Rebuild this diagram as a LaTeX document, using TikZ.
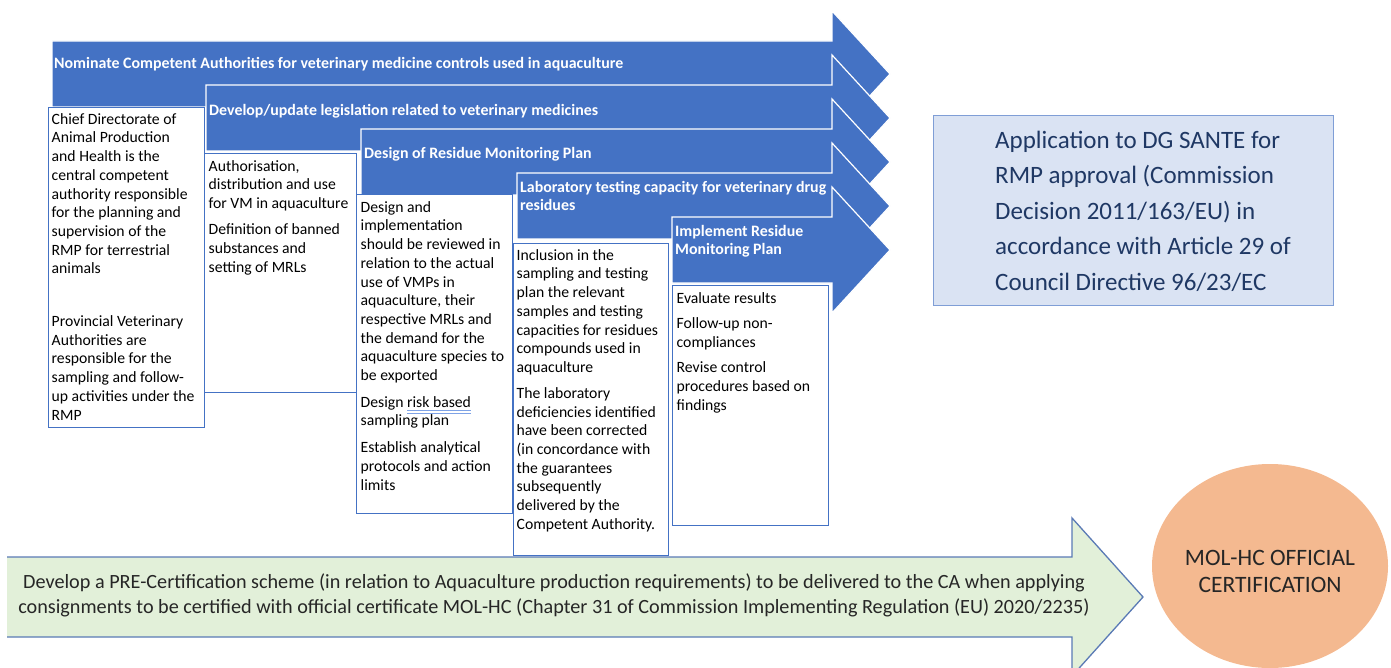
\documentclass[tikz,border=0pt]{standalone}
\usepackage{fontspec}
\setmainfont{Carlito}
\usetikzlibrary{positioning, shapes.geometric}

\definecolor{stageblue}{HTML}{4472C4}
\definecolor{santefill}{HTML}{DAE3F3}
\definecolor{santeline}{HTML}{7F9ED6}
\definecolor{santetext}{HTML}{1F3864}
\definecolor{precertfill}{HTML}{E2F0D9}
\definecolor{precertline}{HTML}{5A7AB5}
\definecolor{certfill}{HTML}{F4B990}
\definecolor{gramblue}{HTML}{7FA3E6}

\newcommand\notefont{\fontsize{15.7}{18.7}\selectfont}
\newcommand\stagefont{\fontsize{15.9}{18.7}\selectfont\bfseries}
\newsavebox\grambox
\newcommand\gramline[1]{\sbox\grambox{#1}%
  \rlap{\textcolor{gramblue}{\rule[-4pt]{\wd\grambox}{1.1pt}}}%
  \rlap{\textcolor{gramblue}{\rule[-6.8pt]{\wd\grambox}{1.1pt}}}%
  \usebox\grambox}

\tikzset{
  stagearrow/.style={
    fill=stageblue,
    draw=white,
    line width=1.2pt
  },
  stagelabel/.style={
    anchor=north west,
    inner sep=0pt,
    align=left,
    text=white,
    font=\stagefont
  },
  notebox/.style={
    draw=stageblue,
    fill=white,
    line width=1.3pt,
    anchor=north west,
    inner sep=0pt
  },
  notetext/.style={
    inner sep=0pt,
    align=left,
    font=\notefont
  },
  santebox/.style={
    draw=santeline,
    fill=santefill,
    line width=1.3pt,
    anchor=north west,
    inner sep=0pt
  },
  santetext/.style={
    inner sep=0pt,
    align=left,
    text=santetext,
    font=\fontsize{25}{35.5}\selectfont
  },
  precerttext/.style={
    inner sep=0pt,
    align=center,
    text=black!85,
    font=\fontsize{20.2}{25}\selectfont
  },
  certcircle/.style={
    ellipse,
    fill=certfill,
    minimum width=236pt,
    minimum height=204pt,
    inner sep=0pt
  },
  certtext/.style={
    inner sep=0pt,
    align=center,
    text=black!85,
    font=\fontsize{23.5}{27}\selectfont
  }
}

\begin{document}
\begin{tikzpicture}[x=1pt, y=-1pt]
  \useasboundingbox (0,0) rectangle (1391,668);
  \clip (0,0) rectangle (1391,668);

  % five stage arrows, back to front
  \path [stagearrow] (52,41) -- (832,41) -- (832,11) -- (890,74) -- (832,137) -- (832,107) -- (52,107) -- cycle;
  \node (nominate) [stagelabel] at (54,55) {\strut Nominate Competent Authorities for veterinary medicine controls used in aquaculture};
  \path [stagearrow] (206,85) -- (832,85) -- (832,55) -- (890,118) -- (832,181) -- (832,151) -- (206,151) -- cycle;
  \node (legislate) [stagelabel] at (209,102) {\strut Develop/update legislation related to veterinary medicines};
  \path [stagearrow] (361,129) -- (832,129) -- (832,99) -- (890,162) -- (832,225) -- (832,195) -- (361,195) -- cycle;
  \node (rmpdesign) [stagelabel] at (364,145) {\strut Design of Residue Monitoring Plan};
  \path [stagearrow] (517,173) -- (832,173) -- (832,143) -- (890,206) -- (832,269) -- (832,239) -- (517,239) -- cycle;
  \node (labcap) [stagelabel] at (520,179) {\strut Laboratory testing capacity for veterinary drug\\ residues};
  \path [stagearrow] (672,217) -- (832,217) -- (832,187) -- (890,250) -- (832,313) -- (832,283) -- (672,283) -- cycle;
  \node (implement) [stagelabel] at (675,223) {\strut Implement Residue\\ Monitoring Plan};

  % notes under each stage
  \node (authnote) [notebox, minimum width=156pt, minimum height=320pt] at (48,107) {};
  \node (authtext) [notetext, below right=4pt and 3.5pt of authnote.north west] {\strut Chief Directorate of\\ Animal Production\\ and Health is the\\
    central competent\\ authority responsible\\ for the planning and\\ supervision of the\\
    RMP for terrestrial\\ animals\\[34pt]
    Provincial Veterinary\\ Authorities are\\ responsible for the\\ sampling and follow-\\
    up activities under the\\ RMP};
  \node (legnote) [notebox, minimum width=152pt, minimum height=239pt] at (204,153) {};
  \node (legtext) [notetext, below right=5pt and 4.5pt of legnote.north west] {\strut Authorisation,\\ distribution and use\\ for VM in aquaculture\\[7.3pt]
    Definition of banned\\ substances and\\ setting of MRLs};
  \node (designnote) [notebox, minimum width=156pt, minimum height=319pt] at (356,194) {};
  \node (designtext) [notetext, below right=5pt and 4.5pt of designnote.north west] {\strut Design and\\ implementation\\ should be reviewed in\\
    relation to the actual\\ use of VMPs in\\ aquaculture, their\\ respective MRLs and\\
    the demand for the\\ aquaculture species to\\ be exported\\[8pt]
    Design \gramline{risk based}\\ sampling plan\\[8pt]
    Establish analytical\\ protocols and action\\ limits};
  \node (labnote) [notebox, minimum width=155pt, minimum height=312pt] at (513,243) {};
  \node (labtext) [notetext, below right=4pt and 3.5pt of labnote.north west] {\strut Inclusion in the\\ sampling and testing\\ plan the relevant\\
    samples and testing\\ capacities for residues\\ compounds used in\\ aquaculture\\[7.3pt]
    The laboratory\\ deficiencies identified\\ have been corrected\\ (in concordance with\\
    the guarantees\\ subsequently\\ delivered by the\\ Competent Authority.};
  \node (implnote) [notebox, minimum width=156pt, minimum height=240pt] at (672,285) {};
  \node (impltext) [notetext, below right=5pt and 4.5pt of implnote.north west] {\strut Evaluate results\\[6.8pt]
    Follow-up non-\\ compliances\\[6.8pt]
    Revise control\\ procedures based on\\ findings};

  % approval request
  \node (sante) [santebox, minimum width=400pt, minimum height=190pt] at (933,115) {};
  \node (santetxt) [santetext, below right=8pt and 62pt of sante.north west] {\strut Application to DG SANTE for\\ RMP approval (Commission\\
    Decision 2011/163/EU) in\\ accordance with Article 29 of\\ Council Directive 96/23/EC};

  % pre-certification arrow
  \fill [precertfill] (7,557) -- (1072,557) -- (1072,518) -- (1143,597) -- (1072,676) -- (1072,637) -- (7,637) -- cycle;
  \draw [precertline, line width=1.3pt] (7,557) -- (1072,557) -- (1072,518) -- (1143,597) -- (1072,676) -- (1072,637) -- (7,637);
  \node (precert) [precerttext] at (554,596) {\strut Develop a PRE-Certification scheme (in relation to Aquaculture production requirements) to be delivered to the CA when applying\\
    consignments to be certified with official certificate MOL-HC (Chapter 31 of Commission Implementing Regulation (EU) 2020/2235)\strut};

  % official certification
  \node (molhc) [certcircle] at (1270,566) {};
  \node (molhclabel) [certtext, yshift=-5pt] at (molhc.center) {MOL-HC OFFICIAL\\ CERTIFICATION};
\end{tikzpicture}
\end{document}
